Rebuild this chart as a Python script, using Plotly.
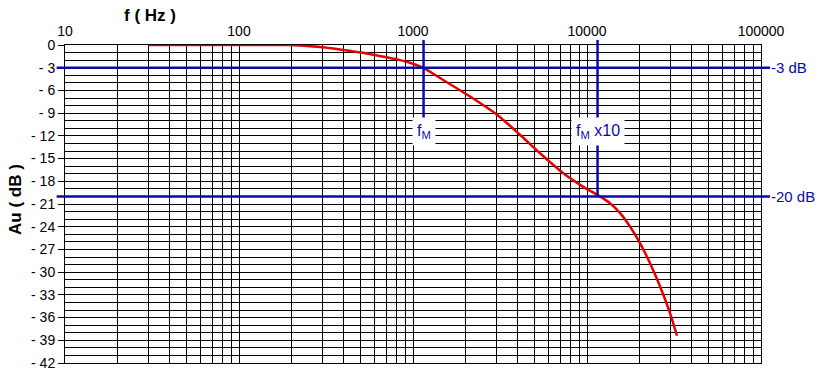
import math
import plotly.graph_objects as go

# ---- data ----
freq_hz = [30, 60, 100, 196, 292, 380, 516, 646, 809, 961, 1140, 1429, 2128, 3040, 4120, 5370,
           7280, 9480, 11880, 13560, 15500, 17700, 20200, 23000, 26300, 30000, 32900]
gain_db = [0, 0, 0, 0, -0.26, -0.58, -1.02, -1.45, -1.9, -2.34, -3.0, -4.36, -6.8, -9.2, -11.85, -14.3,
           -16.9, -18.7, -20.0, -20.9, -22.2, -24.0, -26.2, -28.8, -31.9, -35.4, -38.4]
x_ticks = [10, 100, 1000, 10000, 100000]
x_tick_labels = ["10", "100", "1000", "10000", "100000"]
y_ticks = list(range(-42, 1, 3))
y_tick_labels = [str(v).replace("-", "- ") if v else "0" for v in y_ticks]
f_M = 1150
f_M10 = 11500
ref_levels = [-3, -20]
ref_labels = ["-3 dB", "-20 dB"]

BLUE = "#0A0AAA"
RED = "#E60000"
FONT = "Liberation Sans, Arial, sans-serif"

minor_x = [m * 10 ** e for e in range(1, 5) for m in range(2, 10)]

fig = go.Figure()
fig.add_trace(go.Scatter(x=freq_hz, y=gain_db, mode="lines",
                         line=dict(color=RED, width=2.5, shape="spline", smoothing=0.6),
                         hoverinfo="skip", showlegend=False))

# horizontal reference lines
for lvl, lab in zip(ref_levels, ref_labels):
    fig.add_shape(type="line", xref="paper", yref="y", x0=-0.012, x1=1.013, y0=lvl, y1=lvl,
                  line=dict(color=BLUE, width=2.5), layer="above")
    fig.add_annotation(xref="paper", yref="y", x=1.012, y=lvl, text=lab, showarrow=False,
                       xanchor="left", yanchor="middle", font=dict(color=BLUE, size=15, family=FONT))

# vertical f_M lines
fig.add_shape(type="line", xref="x", yref="paper", x0=f_M, x1=f_M, y0=1.016, y1=1 - 10 / 42,
              line=dict(color=BLUE, width=2.5), layer="above")
fig.add_shape(type="line", xref="x", yref="paper", x0=f_M10, x1=f_M10, y0=1.016, y1=1 - 20 / 42,
              line=dict(color=BLUE, width=2.5), layer="above")
fig.add_annotation(xref="x", yref="y", x=math.log10(f_M), y=-11.4, text="f<sub>M</sub>",
                   showarrow=False, bgcolor="white", borderpad=4,
                   font=dict(color=BLUE, size=16, family=FONT))
fig.add_annotation(xref="x", yref="y", x=math.log10(f_M10), y=-11.4, text="f<sub>M</sub> x10",
                   showarrow=False, bgcolor="white", borderpad=4,
                   font=dict(color=BLUE, size=16, family=FONT))

# axis titles
fig.add_annotation(xref="paper", yref="paper", x=(150 - 65) / 696, y=1.0 + 30 / 318,
                   text="<b>f ( Hz )</b>", showarrow=False, xanchor="center", yanchor="middle",
                   font=dict(size=17, color="black", family=FONT))
fig.add_annotation(xref="paper", yref="paper", x=(15 - 65) / 696, y=(363 - 200) / 318,
                   text="<b>Au ( dB )</b>", showarrow=False, textangle=-90, xanchor="center",
                   yanchor="middle", font=dict(size=17, color="black", family=FONT))

fig.update_layout(
    width=827, height=376,
    margin=dict(l=65, r=66, t=45, b=13),
    paper_bgcolor="white", plot_bgcolor="white",
    font=dict(family=FONT, color="black", size=14),
    xaxis=dict(type="log", range=[1, 5], side="top", automargin=False,
               tickvals=x_ticks, ticktext=x_tick_labels, ticks="", ticklabelstandoff=2,
               showgrid=True, gridcolor="black", gridwidth=1,
               minor=dict(tickvals=minor_x, showgrid=True, gridcolor="black", gridwidth=1, ticks=""),
               showline=True, linecolor="black", linewidth=1, mirror=True, zeroline=False,
               tickfont=dict(size=14, family=FONT)),
    yaxis=dict(range=[-42, 0], automargin=False, tickvals=y_ticks, ticktext=y_tick_labels,
               ticks="outside", ticklen=6, tickcolor="black",
               showgrid=True, gridcolor="black", gridwidth=1,
               minor=dict(dtick=1, showgrid=True, gridcolor="black", gridwidth=1, ticks=""),
               showline=True, linecolor="black", linewidth=1, mirror=True, zeroline=False,
               tickfont=dict(size=14, family=FONT)),
)

fig.write_html("out.html", config={"displayModeBar": False},
               post_script="document.body.style.margin='0';document.body.style.overflow='hidden';")
